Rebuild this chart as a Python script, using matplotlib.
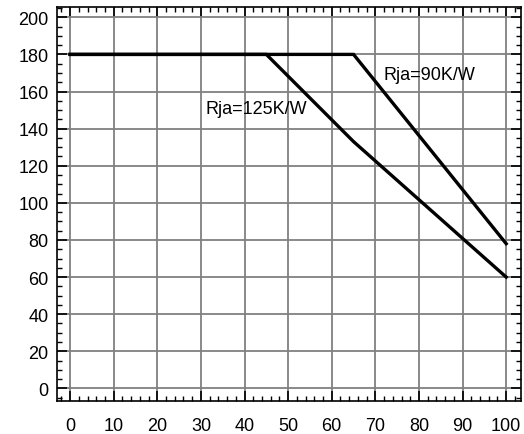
import matplotlib
matplotlib.use("Agg")
import matplotlib.pyplot as plt
from matplotlib.ticker import MultipleLocator

plt.rcParams['font.family'] = ['Liberation Sans', 'DejaVu Sans']

x_90 = [0, 65, 100]
y_90 = [180, 180, 78]
x_125 = [0, 45, 65, 100]
y_125 = [180, 180, 133, 60]
label_90 = "Rja=90K/W"
label_125 = "Rja=125K/W"
xticks = list(range(0, 101, 10))
yticks = list(range(0, 201, 20))

fig = plt.figure(figsize=(5.24, 4.35), dpi=100)
ax = fig.add_axes([0.1088, 0.077, 0.8855, 0.904])

ax.plot(x_90, y_90, color='black', lw=2.4, solid_joinstyle='miter', zorder=3)
ax.plot(x_125, y_125, color='black', lw=2.4, solid_joinstyle='miter', zorder=3)

ax.text(71.8, 169.4, label_90, fontsize=13, va='center', ha='left')
ax.text(31.0, 151.0, label_125, fontsize=13, va='center', ha='left')

ax.set_xlim(-3, 103.4)
ax.set_ylim(-6.5, 205.4)
ax.set_xticks(xticks)
ax.set_yticks(yticks)
ax.xaxis.set_minor_locator(MultipleLocator(2))
ax.yaxis.set_minor_locator(MultipleLocator(5))
ax.grid(True, which='major', color='#808080', lw=1.3, zorder=1)
ax.set_axisbelow(True)

ax.tick_params(which='both', direction='in', top=True, right=True, colors='black')
ax.tick_params(which='major', length=7, width=1.2, labelsize=13)
ax.tick_params(which='minor', length=3.5, width=1.0)
ax.tick_params(axis='x', which='major', pad=12)
ax.tick_params(axis='y', which='major', pad=6)

for s in ax.spines.values():
    s.set_linewidth(1.2)
    s.set_color('black')

fig.savefig("out.png", dpi=100)
